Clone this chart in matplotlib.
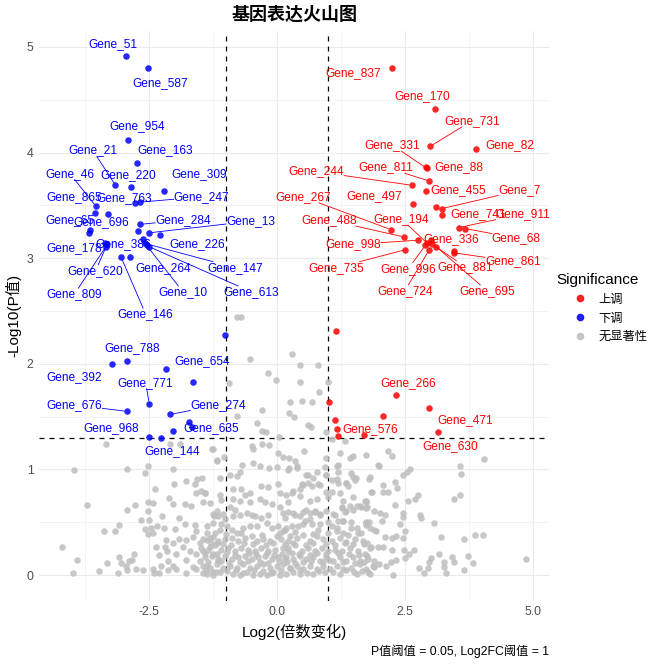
import numpy as np
import matplotlib
matplotlib.use("Agg")
import matplotlib.pyplot as plt
from matplotlib.lines import Line2D

plt.rcParams['font.family'] = ['Liberation Sans', 'Noto Sans CJK SC', 'DejaVu Sans']

## thresholds
p_cut = 0.05
fc_cut = 1

## up-regulated genes (red)
up_genes = ['Gene_837', 'Gene_170', 'Gene_731', 'Gene_331', 'Gene_82', 'Gene_811', 'Gene_88',
            'Gene_244', 'Gene_455', 'Gene_7', 'Gene_267', 'Gene_497', 'Gene_741', 'Gene_911',
            'Gene_68', 'Gene_488', 'Gene_194', 'Gene_998', 'Gene_336', 'Gene_861', 'Gene_735',
            'Gene_996', 'Gene_881', 'Gene_724', 'Gene_695', 'Gene_266', 'Gene_471', 'Gene_630',
            'Gene_576', '', '', '', '', '', '', '', '']
up_fc = [2.25, 3.08, 2.99, 2.92, 3.89, 2.97, 2.91, 2.63, 2.91, 3.22, 2.22, 2.65, 3.22, 3.55,
         3.67, 2.48, 2.93, 2.75, 3.01, 3.46, 2.50, 2.89, 3.03, 2.97, 3.10, 2.32, 2.97, 3.14,
         1.69, 3.10, 3.46, 1.14, 1.01, 2.06, 1.12, 1.17, 1.19]
up_logp = [4.80, 4.41, 4.06, 3.85, 4.03, 3.73, 3.86, 3.69, 3.64, 3.47, 3.27, 3.51, 3.41, 3.29,
           3.28, 3.20, 3.14, 3.17, 3.17, 3.05, 3.08, 3.12, 3.13, 3.08, 3.11, 1.70, 1.58, 1.35,
           1.33, 3.48, 3.07, 2.31, 1.64, 1.51, 1.47, 1.38, 1.32]

## down-regulated genes (blue)
down_genes = ['Gene_51', 'Gene_587', 'Gene_954', 'Gene_163', 'Gene_21', 'Gene_220', 'Gene_309',
              'Gene_46', 'Gene_865', 'Gene_763', 'Gene_247', 'Gene_696', 'Gene_65', 'Gene_284',
              'Gene_13', 'Gene_226', 'Gene_178', 'Gene_620', 'Gene_809', 'Gene_386', 'Gene_147',
              'Gene_10', 'Gene_613', 'Gene_264', 'Gene_146', 'Gene_788', 'Gene_392', 'Gene_654',
              'Gene_771', 'Gene_676', 'Gene_274', 'Gene_635', 'Gene_968', 'Gene_144',
              '', '', '', '', '', '']
down_fc = [-2.95, -2.52, -2.92, -2.74, -3.16, -2.85, -2.21, -3.54, -3.56, -2.78, -2.69, -3.31,
           -3.65, -2.68, -2.50, -2.29, -3.37, -3.34, -3.32, -2.62, -2.59, -2.55, -2.51, -2.88,
           -3.05, -2.94, -3.23, -2.17, -2.50, -2.94, -2.09, -1.66, -2.50, -2.27,
           -3.68, -2.72, -1.03, -1.64, -1.72, -2.03]
down_logp = [4.91, 4.80, 4.12, 3.90, 3.69, 3.67, 3.64, 3.49, 3.43, 3.52, 3.53, 3.42, 3.27, 3.32,
             3.24, 3.22, 3.14, 3.11, 3.13, 3.18, 3.14, 3.12, 3.11, 3.01, 3.01, 2.03, 2.00, 1.95,
             1.62, 1.55, 1.52, 1.40, 1.31, 1.30,
             3.24, 3.26, 2.27, 1.83, 1.45, 1.36]

## non significant genes (grey): (log2FC, -log10 P)
ns_points = [
    (-3.34, 1.24), (-3.97, 0.99), (-2.93, 1.00), (-2.58, 0.97), (-2.53, 1.03), (-2.04, 1.00),
    (-2.09, 1.24), (-1.89, 1.24), (-1.27, 1.19), (-1.18, 1.09), (-2.39, 0.81), (-2.02, 0.86),
    (-1.78, 0.89), (-1.57, 0.91), (-1.47, 0.92), (-1.61, 0.86), (-1.58, 0.78), (-1.49, 0.80),
    (-1.41, 0.78), (-3.71, 0.66), (-2.94, 0.62), (-2.78, 0.66), (-2.52, 0.69), (-2.43, 0.68),
    (-2.53, 0.61), (-2.12, 0.73), (-2.04, 0.67), (-1.80, 0.67), (-1.68, 0.65), (-2.25, 0.56),
    (-1.92, 0.54), (-1.23, 0.56), (-1.18, 0.61), (-2.66, 0.52), (-2.50, 0.52), (-3.09, 0.47),
    (-3.17, 0.42), (-3.38, 0.42), (-2.58, 0.44), (-2.47, 0.45), (-2.35, 0.46), (-2.22, 0.45),
    (-2.42, 0.40), (-2.53, 0.39), (-1.99, 0.44), (-1.81, 0.48), (-1.61, 0.47), (-1.58, 0.42),
    (-1.38, 0.46), (-1.26, 0.49), (-4.20, 0.27), (-3.91, 0.14), (-3.99, 0.02), (-3.48, 0.04),
    (-3.32, 0.11), (-3.09, 0.17), (-3.06, 0.11), (-2.96, 0.09), (-2.89, 0.13), (-2.80, 0.20),
    (-2.84, 0.14), (-3.12, 0.02), (-2.93, 0.05), (-2.76, 0.06), (-2.63, 0.05), (-2.43, 0.06),
    (-2.40, 0.02), (-2.30, 0.02), (-2.27, 0.09), (-2.14, 0.05), (-2.14, 0.13), (-2.04, 0.09),
    (-1.97, 0.06), (-1.78, 0.02), (-1.64, 0.08), (-1.51, 0.13), (-1.38, 0.09), (-1.25, 0.03),
    (-1.15, 0.13), (-2.17, 0.33), (-2.04, 0.30), (-1.91, 0.34), (-1.78, 0.33), (-1.64, 0.36),
    (-1.51, 0.30), (-1.38, 0.33), (-1.25, 0.36), (-2.15, 0.23), (-1.97, 0.20), (-1.84, 0.27),
    (-1.71, 0.23), (-1.58, 0.20), (-1.45, 0.23), (-1.32, 0.27), (-1.18, 0.30), (-2.30, 0.19),
    (-1.78, 0.14), (-1.58, 0.06), (-1.45, 0.02), (-1.25, 0.20), (-2.37, 0.27), (-2.20, 0.27),
    (-0.78, 2.44), (-0.70, 2.44), (0.29, 2.09), (-0.53, 2.05), (0.45, 1.99), (0.80, 1.99),
    (-0.18, 1.91), (-0.02, 1.85), (-0.95, 1.82), (0.45, 1.83), (0.99, 1.83), (0.82, 1.73),
    (0.24, 1.64), (0.49, 1.65), (0.68, 1.64), (-0.29, 1.56), (-0.78, 1.51), (0.22, 1.53),
    (0.33, 1.50), (-0.40, 1.44), (0.61, 1.42), (0.66, 1.40), (-0.29, 1.36), (-0.22, 1.35),
    (0.04, 1.31), (0.95, 1.35), (1.06, 1.29), (1.43, 1.11), (1.19, 1.04), (1.97, 1.04),
    (0.95, 1.11), (-0.47, 1.19), (-0.29, 1.24), (-0.17, 1.23), (-0.50, 1.22), (-1.26, 1.19),
    (-1.04, 1.12), (-1.17, 1.08), (0.02, 1.16), (0.12, 1.12), (0.22, 1.11), (0.35, 1.08),
    (0.39, 1.03), (0.52, 1.17), (-0.47, 1.06), (-0.34, 1.03), (-0.16, 1.01), (0.00, 1.02),
    (-0.68, 1.04), (-0.73, 0.98), (-0.79, 0.94), (-0.92, 0.95), (-1.11, 0.92), (0.22, 1.01),
    (0.57, 0.95), (0.77, 0.98), (0.70, 0.92), (0.61, 0.87), (0.80, 0.86), (0.48, 0.86),
    (0.93, 1.02), (0.95, 0.95), (1.22, 1.16), (1.32, 1.27), (1.48, 1.13), (1.73, 1.14),
    (1.45, 0.97), (1.53, 0.92), (1.35, 0.87), (1.16, 0.91), (1.22, 0.78), (-1.41, 0.78),
    (-1.45, 0.69), (-1.32, 0.68), (-1.11, 0.76), (-1.09, 0.71), (-0.86, 0.81), (-0.86, 0.72),
    (-0.70, 0.81), (-0.63, 0.76), (-0.53, 0.78), (-0.31, 0.84), (-0.18, 0.83), (0.02, 0.86),
    (0.05, 0.78), (0.18, 0.76), (0.31, 0.80), (0.44, 0.75), (0.21, 0.69), (0.05, 0.64),
    (-0.11, 0.67), (-0.24, 0.69), (-0.34, 0.72), (-0.53, 0.69), (-0.73, 0.70), (-0.83, 0.62),
    (-0.92, 0.64), (-1.05, 0.58), (-1.25, 0.58), (0.64, 0.70), (0.77, 0.72), (0.57, 0.62),
    (0.74, 0.61), (0.83, 0.58), (0.96, 0.61), (1.09, 0.58), (1.26, 0.64), (1.35, 0.61),
    (1.48, 0.62), (1.61, 0.65), (1.74, 0.69), (1.29, 0.51), (1.45, 0.50), (1.55, 0.45),
    (1.74, 0.47), (1.16, 0.45), (1.00, 0.50), (0.83, 0.48), (0.64, 0.53), (0.44, 0.56),
    (0.31, 0.59), (0.51, 0.48),
    (2.17, 1.17), (2.25, 1.13), (1.99, 1.03), (2.45, 0.95), (2.53, 0.98), (2.60, 1.00),
    (3.57, 1.03), (3.59, 0.96), (4.04, 1.10), (1.80, 0.91), (2.07, 0.85), (2.29, 0.88),
    (2.34, 0.82), (1.86, 0.79), (2.07, 0.79), (2.17, 0.79), (2.75, 0.76), (2.69, 0.72),
    (2.55, 0.70), (3.57, 0.76), (3.46, 0.72), (1.74, 0.70), (1.63, 0.64), (1.76, 0.64),
    (1.88, 0.61), (2.29, 0.66), (2.01, 0.59), (2.10, 0.57), (2.05, 0.51), (2.45, 0.59),
    (2.45, 0.55), (2.78, 0.57), (2.81, 0.54), (3.07, 0.49), (2.40, 0.48), (2.50, 0.42),
    (1.73, 0.50), (1.80, 0.50), (1.88, 0.43), (1.93, 0.42), (2.11, 0.36), (2.24, 0.35),
    (2.32, 0.37), (2.45, 0.35), (3.20, 0.36), (3.65, 0.34), (3.87, 0.38), (4.02, 0.38),
    (1.63, 0.40), (1.70, 0.29), (1.76, 0.30), (1.83, 0.27), (1.96, 0.27), (2.07, 0.27),
    (2.25, 0.24), (2.48, 0.24), (2.68, 0.24), (2.58, 0.20), (2.49, 0.16), (2.32, 0.14),
    (2.22, 0.12), (2.12, 0.09), (1.99, 0.10), (1.89, 0.13), (1.76, 0.18), (1.88, 0.08),
    (1.82, 0.01), (2.27, 0.00), (2.77, 0.07), (2.87, 0.02), (2.94, 0.07), (3.01, 0.16),
    (2.97, 0.12), (3.16, 0.20), (3.26, 0.08), (3.42, 0.17), (3.46, 0.12), (3.64, 0.05),
    (3.73, 0.18), (3.83, 0.11), (3.25, 0.12), (3.29, 0.02), (4.86, 0.15),
    (-0.86, 0.56), (-0.73, 0.57), (-0.60, 0.59), (-0.50, 0.57), (-0.44, 0.56), (-0.31, 0.54),
    (-0.18, 0.57), (0.12, 0.59), (0.15, 0.54), (-1.15, 0.56), (-1.02, 0.53), (-1.09, 0.48),
    (-1.38, 0.40), (-1.22, 0.40), (-1.12, 0.43), (-0.99, 0.46), (-0.89, 0.43), (-0.79, 0.40),
    (-0.66, 0.45), (-0.53, 0.46), (-0.40, 0.46), (-0.21, 0.49), (-0.11, 0.45), (0.02, 0.46),
    (0.12, 0.42), (0.18, 0.45), (-1.45, 0.34), (-1.32, 0.35), (-1.15, 0.32), (-1.02, 0.34),
    (-0.89, 0.35), (-0.76, 0.32), (-0.63, 0.35), (-0.50, 0.37), (-0.40, 0.32), (-0.27, 0.34),
    (-0.14, 0.32), (-0.01, 0.37), (0.08, 0.34), (0.21, 0.32), (-1.48, 0.26), (-1.35, 0.24),
    (-1.22, 0.28), (-1.09, 0.24), (-0.96, 0.26), (-0.83, 0.23), (-0.70, 0.26), (-0.57, 0.24),
    (-0.44, 0.23), (-0.31, 0.26), (-0.18, 0.23), (-0.05, 0.24), (0.12, 0.26), (0.21, 0.23),
    (-1.41, 0.17), (-1.28, 0.18), (-1.15, 0.15), (-1.02, 0.18), (-0.89, 0.15), (-0.76, 0.17),
    (-0.63, 0.18), (-0.50, 0.15), (-0.37, 0.17), (-0.24, 0.18), (-0.11, 0.15), (0.02, 0.17),
    (0.15, 0.15), (-1.45, 0.09), (-1.32, 0.07), (-1.18, 0.10), (-1.05, 0.07), (-0.92, 0.09),
    (-0.79, 0.07), (-0.66, 0.10), (-0.53, 0.07), (-0.40, 0.09), (-0.27, 0.10), (-0.14, 0.07),
    (-0.01, 0.09), (0.12, 0.10), (0.25, 0.07), (-1.38, 0.01), (-1.25, 0.00), (-1.12, 0.03),
    (-0.86, 0.01), (-0.73, 0.00), (-0.60, 0.03), (-0.47, 0.00), (-0.34, 0.01), (-0.21, 0.00),
    (-0.08, 0.03), (0.05, 0.00), (0.18, 0.01),
    (0.21, 0.99), (0.38, 1.01), (1.16, 1.03), (1.19, 0.98), (1.48, 0.93), (1.52, 0.90),
    (1.81, 0.93), (0.61, 0.95), (0.96, 0.95), (1.06, 0.90), (1.19, 0.87), (1.35, 0.87),
    (0.67, 0.84), (0.83, 0.85), (0.51, 0.85), (0.44, 0.81), (0.28, 0.78), (0.96, 0.79),
    (1.06, 0.79), (0.99, 0.74), (1.39, 0.84), (1.48, 0.74), (1.84, 0.79), (1.71, 0.70),
    (1.74, 0.63), (1.55, 0.65), (1.42, 0.65), (1.29, 0.70), (1.26, 0.63),
    (0.21, 0.60), (0.35, 0.57), (0.51, 0.60), (0.64, 0.59), (0.74, 0.60), (0.83, 0.57),
    (1.13, 0.57), (1.32, 0.60), (1.19, 0.51), (1.29, 0.51), (1.06, 0.46), (1.16, 0.42),
    (1.29, 0.40), (1.45, 0.45), (1.58, 0.40), (1.74, 0.49), (1.81, 0.45), (0.15, 0.43),
    (0.28, 0.46), (0.41, 0.46), (0.54, 0.51), (0.67, 0.48), (0.80, 0.43), (0.25, 0.37),
    (0.38, 0.35), (0.51, 0.38), (0.64, 0.32), (0.77, 0.37), (0.90, 0.34), (1.06, 0.32),
    (1.22, 0.35), (1.35, 0.31), (1.52, 0.34), (1.68, 0.32), (1.81, 0.26), (0.21, 0.26),
    (0.35, 0.28), (0.48, 0.23), (0.61, 0.26), (0.74, 0.23), (0.87, 0.26), (1.00, 0.23),
    (1.13, 0.24), (1.26, 0.23), (1.42, 0.26), (1.58, 0.23), (1.71, 0.20), (0.18, 0.17),
    (0.31, 0.15), (0.44, 0.18), (0.57, 0.15), (0.70, 0.17), (0.83, 0.13), (0.96, 0.17),
    (1.09, 0.13), (1.22, 0.17), (1.35, 0.13), (1.48, 0.17), (1.61, 0.13), (1.78, 0.15),
    (0.25, 0.07), (0.38, 0.09), (0.51, 0.06), (0.64, 0.09), (0.77, 0.06), (0.90, 0.09),
    (1.03, 0.06), (1.16, 0.09), (1.29, 0.06), (1.45, 0.07), (1.61, 0.10), (1.74, 0.06),
    (1.87, 0.09), (0.44, 0.01), (0.70, 0.01), (0.93, 0.03), (1.22, 0.01), (1.55, 0.01),
    (1.78, 0.03),
    ## dense core, second pass
    (-1.40, 0.05), (-1.20, 0.03), (-0.98, 0.04), (-0.80, 0.05), (-0.66, 0.02), (-0.45, 0.05),
    (-0.28, 0.04), (-0.12, 0.02), (0.08, 0.05), (0.30, 0.03), (0.45, 0.05), (0.58, 0.02),
    (0.82, 0.04), (1.08, 0.03), (1.34, 0.05), (1.50, 0.03), (1.66, 0.04),
    (-1.35, 0.12), (-1.10, 0.13), (-0.95, 0.11), (-0.72, 0.12), (-0.58, 0.13), (-0.33, 0.12),
    (-0.18, 0.11), (0.04, 0.13), (0.20, 0.12), (0.34, 0.11), (0.50, 0.12), (0.66, 0.13),
    (0.90, 0.12), (1.02, 0.14), (1.28, 0.12), (1.52, 0.11), (1.70, 0.12),
    (-1.42, 0.21), (-1.18, 0.20), (-0.98, 0.22), (-0.82, 0.19), (-0.55, 0.21), (-0.42, 0.20),
    (-0.20, 0.21), (-0.06, 0.19), (0.10, 0.20), (0.28, 0.21), (0.42, 0.20), (0.63, 0.19),
    (0.78, 0.21), (0.95, 0.20), (1.18, 0.21), (1.40, 0.20), (1.60, 0.19),
    (-1.30, 0.30), (-1.05, 0.29), (-0.90, 0.28), (-0.65, 0.30), (-0.47, 0.29), (-0.22, 0.28),
    (-0.08, 0.30), (0.15, 0.29), (0.30, 0.30), (0.56, 0.28), (0.70, 0.30), (0.96, 0.29),
    (1.12, 0.28), (1.32, 0.30), (1.48, 0.29),
    (-1.00, 0.39), (-0.70, 0.40), (-0.30, 0.38), (0.05, 0.40), (0.35, 0.41), (0.70, 0.39),
    (1.00, 0.40), (1.38, 0.38),
]
ns_fc = np.array([p[0] for p in ns_points])
ns_logp = np.array([p[1] for p in ns_points])

## where the gene labels sit (data units), as placed by the repel step
label_pos = {
    'Gene_51': (-3.21, 5.03), 'Gene_587': (-2.29, 4.66), 'Gene_954': (-2.74, 4.25),
    'Gene_163': (-2.18, 4.02), 'Gene_21': (-3.60, 4.02), 'Gene_220': (-2.92, 3.79),
    'Gene_309': (-1.53, 3.80), 'Gene_46': (-4.05, 3.80), 'Gene_865': (-3.96, 3.58),
    'Gene_763': (-2.98, 3.57), 'Gene_247': (-1.48, 3.58), 'Gene_696': (-3.44, 3.34),
    'Gene_65': (-4.06, 3.36), 'Gene_284': (-1.84, 3.36), 'Gene_13': (-0.52, 3.35),
    'Gene_226': (-1.57, 3.13), 'Gene_178': (-3.96, 3.10), 'Gene_620': (-3.55, 2.88),
    'Gene_809': (-3.96, 2.66), 'Gene_386': (-3.01, 3.13), 'Gene_147': (-0.82, 2.91),
    'Gene_10': (-1.84, 2.68), 'Gene_613': (-0.50, 2.68), 'Gene_264': (-2.23, 2.91),
    'Gene_146': (-2.57, 2.47), 'Gene_788': (-2.84, 2.15), 'Gene_392': (-3.96, 1.87),
    'Gene_654': (-1.46, 2.03), 'Gene_771': (-2.57, 1.82), 'Gene_676': (-3.96, 1.61),
    'Gene_274': (-1.15, 1.61), 'Gene_635': (-1.29, 1.39), 'Gene_968': (-3.24, 1.39),
    'Gene_144': (-2.06, 1.17),
    'Gene_837': (1.48, 4.75), 'Gene_170': (2.84, 4.53), 'Gene_731': (3.80, 4.30),
    'Gene_331': (2.25, 4.07), 'Gene_82': (4.54, 4.07), 'Gene_811': (2.12, 3.86),
    'Gene_88': (3.55, 3.86), 'Gene_244': (0.76, 3.82), 'Gene_455': (3.54, 3.64),
    'Gene_7': (4.73, 3.64), 'Gene_267': (0.50, 3.58), 'Gene_497': (1.90, 3.59),
    'Gene_741': (3.92, 3.42), 'Gene_911': (4.80, 3.42), 'Gene_68': (4.67, 3.19),
    'Gene_488': (1.02, 3.36), 'Gene_194': (2.43, 3.37), 'Gene_998': (1.48, 3.13),
    'Gene_336': (3.39, 3.18), 'Gene_861': (4.60, 2.97), 'Gene_735': (1.16, 2.91),
    'Gene_996': (2.56, 2.90), 'Gene_881': (3.67, 2.92), 'Gene_724': (2.49, 2.69),
    'Gene_695': (4.10, 2.69), 'Gene_266': (2.56, 1.82), 'Gene_471': (3.67, 1.47),
    'Gene_630': (3.37, 1.22), 'Gene_576': (1.82, 1.38),
}

RED = '#FF0000'
BLUE = '#0000FF'
GREY = '#BEBEBE'

fig = plt.figure(figsize=(6.64, 6.64), dpi=100)
ax = fig.add_axes([0.059, 0.095, 0.768, 0.859])

ax.scatter(ns_fc, ns_logp, s=22, color=GREY, alpha=0.85, linewidths=0, zorder=3)
ax.scatter(up_fc, up_logp, s=22, color=RED, alpha=0.85, linewidths=0, zorder=3)
ax.scatter(down_fc, down_logp, s=22, color=BLUE, alpha=0.85, linewidths=0, zorder=3)

ax.axvline(-fc_cut, color='black', lw=0.9, ls=(0, (4, 4)), zorder=2)
ax.axvline(fc_cut, color='black', lw=0.9, ls=(0, (4, 4)), zorder=2)
ax.axhline(-np.log10(p_cut), color='black', lw=0.9, ls=(0, (4, 4)), zorder=2)

ax.set_xlim(-4.65, 5.31)
ax.set_ylim(-0.245, 5.155)

## theme_minimal look
for sp in ax.spines.values():
    sp.set_visible(False)
ax.set_xticks([-2.5, 0, 2.5, 5.0])
ax.set_xticklabels(['-2.5', '0.0', '2.5', '5.0'])
ax.set_yticks([0, 1, 2, 3, 4, 5])
ax.set_xticks([-3.75, -1.25, 1.25, 3.75], minor=True)
ax.set_yticks([0.5, 1.5, 2.5, 3.5, 4.5], minor=True)
ax.tick_params(which='both', length=0, labelsize=8.8, labelcolor='#4D4D4D', pad=4)
ax.grid(which='major', color='#EBEBEB', lw=0.8, zorder=0)
ax.grid(which='minor', color='#EBEBEB', lw=0.4, zorder=0)
ax.set_axisbelow(True)

ax.set_xlabel('Log2(倍数变化)', fontsize=11, labelpad=4)
ax.set_ylabel('-Log10(P值)', fontsize=11, labelpad=4)
ax.set_title('基因表达火山图', fontsize=13, fontweight='bold', pad=8)
fig.text(0.827, 0.019, 'P值阈值 = 0.05, Log2FC阈值 = 1', ha='right', va='center', fontsize=8.8)

## gene labels
texts = []
for genes, xs, ys, col in [(up_genes, up_fc, up_logp, RED), (down_genes, down_fc, down_logp, BLUE)]:
    for g, x, y in zip(genes, xs, ys):
        if not g:
            continue
        lx, ly = label_pos[g]
        t = ax.text(lx, ly, g, color=col, fontsize=8.6, ha='center', va='center', zorder=5)
        texts.append((t, x, y, col))

## connector segments for labels that ended up away from their point
fig.canvas.draw()
rend = fig.canvas.get_renderer()
inv = ax.transData.inverted()
for t, x, y, col in texts:
    bb = t.get_window_extent(rend)
    px, py = ax.transData.transform((x, y))
    # gap between point and label box decides whether a segment is drawn
    gx = max(bb.x0 - px, 0, px - bb.x1)
    gy = max(bb.y0 - py, 0, py - bb.y1)
    if np.hypot(gx, gy) < 14:
        continue
    # segment runs along the centre-to-point line, starting at the box edge
    cx, cy = (bb.x0 + bb.x1) / 2, (bb.y0 + bb.y1) / 2
    dx, dy = px - cx, py - cy
    s = min(bb.width / 2 / max(abs(dx), 1e-9), bb.height / 2 / max(abs(dy), 1e-9))
    qx, qy = cx + s * dx, cy + s * dy
    n = np.hypot(dx, dy)
    sx, sy = px - dx / n * 3, py - dy / n * 3
    (a, b), (e, f) = inv.transform([(sx, sy), (qx, qy)])
    ax.plot([a, e], [b, f], color=col, lw=0.6, zorder=4)

## legend
handles = [Line2D([], [], ls='', marker='o', ms=4.5, color=c, alpha=0.85)
           for c in (RED, BLUE, GREY)]
leg = ax.legend(handles, ['上调', '下调', '无显著性'], title='Significance',
                loc='upper left', bbox_to_anchor=(0.829, 0.598), bbox_transform=fig.transFigure,
                frameon=False, fontsize=8.8, title_fontsize=11, alignment='left',
                handlelength=3.9, handletextpad=-0.45, labelspacing=0.55, borderpad=0)

fig.savefig('out.png', dpi=100)
